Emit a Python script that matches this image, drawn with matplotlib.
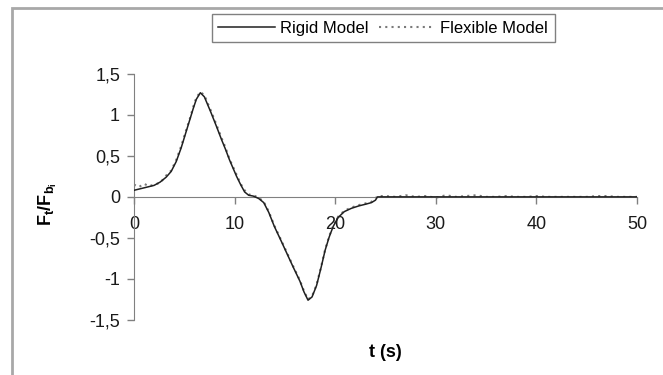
import matplotlib
matplotlib.use("Agg")
import matplotlib.pyplot as plt
from matplotlib.patches import Rectangle
from matplotlib.ticker import FuncFormatter

plt.rcParams['font.family'] = ['Liberation Sans', 'DejaVu Sans']
plt.rcParams['mathtext.fontset'] = 'custom'
plt.rcParams['mathtext.rm'] = 'Liberation Sans'
plt.rcParams['mathtext.bf'] = 'Liberation Sans:bold'

# Rigid model
t_rigid = [0, 1, 2, 2.6, 3.2, 3.7, 4.2, 4.7, 5.1, 5.55, 5.9, 6.2, 6.6, 7.0, 7.65, 8.2, 8.7,
           9.1, 9.5, 10.2, 10.6, 11.0, 11.4, 11.85, 12.4, 12.9, 13.4, 13.95, 14.6, 15.2,
           15.8, 16.5, 16.9, 17.3, 17.7, 18.15, 18.6, 19.0, 19.4, 19.8, 20.3, 20.9, 21.6,
           22.35, 23.0, 23.6, 24.0, 24.2, 26, 30, 35, 40, 45, 50]
v_rigid = [0.08, 0.11, 0.14, 0.18, 0.24, 0.31, 0.43, 0.60, 0.76, 0.94, 1.08, 1.19, 1.27, 1.22, 1.03, 0.86, 0.70,
           0.58, 0.45, 0.25, 0.15, 0.06, 0.02, 0.01, -0.02, -0.07, -0.19, -0.36, -0.53, -0.69,
           -0.85, -1.03, -1.16, -1.26, -1.22, -1.08, -0.86, -0.65, -0.49, -0.36, -0.25, -0.18, -0.14,
           -0.11, -0.09, -0.07, -0.04, 0.0, 0.0, 0.0, 0.0, 0.0, 0.0, 0.0]

# Flexible model
t_flex = [0, 0.5, 1, 1.5, 2, 2.6, 3.2, 3.7, 4.2, 4.7, 5.1, 5.55, 5.9, 6.2, 6.6, 7.0, 7.65, 8.2, 8.7,
          9.1, 9.5, 10.2, 10.6, 11.0, 11.4, 11.85, 12.4, 12.9, 13.4, 13.95, 14.6, 15.2,
          15.8, 16.5, 16.9, 17.3, 17.7, 18.15, 18.6, 19.0, 19.4, 19.8, 20.3, 20.9, 21.6,
          22.35, 23.0, 23.6, 24.0, 24.2, 25, 26, 27, 28, 29, 30, 31, 32, 33, 34, 35, 36, 37,
          38, 39, 40, 41, 42, 43, 44, 45, 46, 47, 48, 49, 50]
v_flex = [0.15, 0.12, 0.16, 0.13, 0.15, 0.17, 0.26, 0.32, 0.45, 0.62, 0.78, 0.95, 1.10, 1.21, 1.28, 1.24, 1.05, 0.88, 0.72,
          0.60, 0.46, 0.27, 0.16, 0.08, 0.03, 0.02, -0.01, -0.06, -0.18, -0.35, -0.52, -0.68,
          -0.84, -1.02, -1.15, -1.25, -1.21, -1.07, -0.85, -0.64, -0.48, -0.35, -0.24, -0.17, -0.13,
          -0.10, -0.08, -0.06, -0.02, 0.01, 0.01, 0.0, 0.02, 0.0, 0.01, -0.01, 0.02, 0.0, 0.01,
          0.02, 0.0, 0.0, 0.01, 0.0, 0.0, 0.01, 0.0, 0.0, 0.0, 0.0, 0.0, 0.01, 0.01, 0.0, 0.0, 0.0]

xticks = [0, 10, 20, 30, 40, 50]
yticks = [-1.5, -1, -0.5, 0, 0.5, 1, 1.5]

fig = plt.figure(figsize=(6.63, 3.75), dpi=100)
ax = fig.add_axes([0.202, 0.147, 0.759, 0.656])

ax.plot(t_flex, v_flex, color='#7a7a7a', lw=1.5, ls=(0, (1, 2)), label='Flexible Model', zorder=2)
ax.plot(t_rigid, v_rigid, color='#202020', lw=1.1, label='Rigid Model', zorder=3)

ax.set_xlim(0, 50)
ax.set_ylim(-1.5, 1.5)
ax.set_xticks(xticks)
ax.set_yticks(yticks)

fmt = FuncFormatter(lambda v, p: ('%g' % v).replace('.', ','))
ax.xaxis.set_major_formatter(fmt)
ax.yaxis.set_major_formatter(fmt)

for s in ['top', 'right']:
    ax.spines[s].set_visible(False)
ax.spines['bottom'].set_position(('data', 0))
ax.spines['bottom'].set_color('#808080')
ax.spines['left'].set_color('#808080')
ax.tick_params(axis='both', colors='#808080', labelcolor='#1a1a1a', labelsize=13, length=5, width=1)
ax.tick_params(axis='x', pad=9)
ax.tick_params(axis='y', pad=5)

ax.set_xlabel('t (s)', fontsize=13, fontweight='bold')
ax.xaxis.set_label_coords(0.5, -0.1)
ax.set_ylabel(r'$\mathbf{F_t/F_{b_i}}$', fontsize=13)
ax.yaxis.set_label_coords(-0.148, 0.47)

h, l = ax.get_legend_handles_labels()
leg = fig.legend([h[1], h[0]], [l[1], l[0]], ncol=2, loc='center', bbox_to_anchor=(0.578, 0.925),
                 fontsize=12, frameon=True, fancybox=False, handlelength=3.4, handletextpad=0.3,
                 columnspacing=0.6, borderpad=0.4)
leg.get_frame().set_edgecolor('#606060')
leg.get_frame().set_linewidth(1.0)

fig.patches.append(Rectangle((12 / 663, -0.1), 1.2, 1.1 - 8 / 375, transform=fig.transFigure,
                             fill=False, edgecolor='#a8a8a8', lw=2, zorder=0))

fig.savefig('out.png', dpi=100)
